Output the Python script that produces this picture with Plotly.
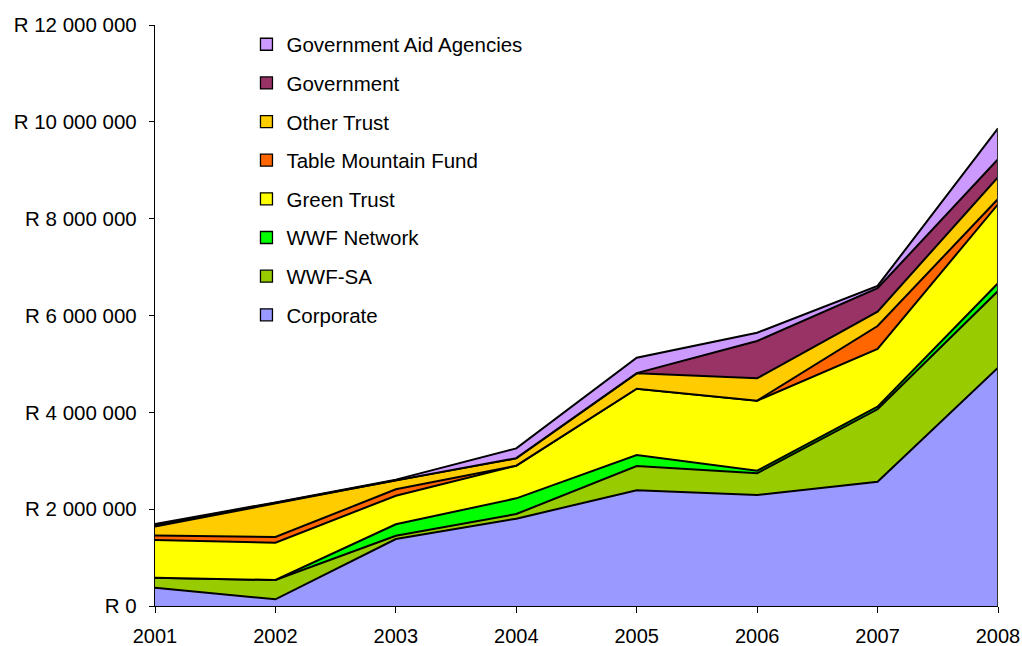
import plotly.graph_objects as go

# Funding received per source, in Rand, 2001-2008
years = [2001, 2002, 2003, 2004, 2005, 2006, 2007, 2008]

corporate = [378000, 138000, 1384000, 1803000, 2390000, 2293000, 2568000, 4922000]
wwf_sa = [207000, 399000, 68000, 97000, 502000, 448000, 1495000, 1584000]
wwf_network = [0, 0, 235000, 324000, 227000, 54000, 54000, 159000]
green_trust = [779000, 770000, 591000, 674000, 1370000, 1446000, 1191000, 1632000]
table_mountain_fund = [90000, 118000, 132000, 0, 0, 0, 475000, 110000]
other_trust = [186000, 696000, 186000, 150000, 317000, 462000, 296000, 448000]
government = [30000, 9000, 4000, 5000, 4000, 771000, 483000, 372000]
gov_aid_agencies = [25000, 10000, 10000, 202000, 319000, 171000, 48000, 640000]

series_names = ["Corporate", "WWF-SA", "WWF Network", "Green Trust",
                "Table Mountain Fund", "Other Trust", "Government",
                "Government Aid Agencies"]
series_values = [corporate, wwf_sa, wwf_network, green_trust,
                 table_mountain_fund, other_trust, government, gov_aid_agencies]
series_colors = ["#9999FF", "#99CC00", "#00FF00", "#FFFF00",
                 "#FF6600", "#FFCC00", "#993366", "#CC99FF"]

y_tick_values = [0, 2000000, 4000000, 6000000, 8000000, 10000000, 12000000]
y_tick_labels = ["R 0", "R 2 000 000", "R 4 000 000", "R 6 000 000",
                 "R 8 000 000", "R 10 000 000", "R 12 000 000"]

FONT = "Liberation Sans, Arial, sans-serif"

fig = go.Figure()

# stacked areas, bottom series first
for name, vals, col in zip(series_names, series_values, series_colors):
    fig.add_trace(go.Scatter(
        x=years, y=vals, name=name, stackgroup="one", mode="lines",
        line=dict(color="black", width=2), fillcolor=col,
        showlegend=False, hoverinfo="skip",
    ))

# right-hand border of the stack
totals = [sum(v) for v in zip(*series_values)]
fig.add_trace(go.Scatter(
    x=[years[-1], years[-1]], y=[0, totals[-1]], mode="lines",
    line=dict(color="#333333", width=2), showlegend=False, hoverinfo="skip",
))

# square legend swatches, top series listed first
for i, (name, col) in enumerate(zip(series_names[::-1], series_colors[::-1])):
    fig.add_trace(go.Bar(
        x=[None], y=[None], name=name, legendgroup=f"g{i}",
        marker=dict(color=col, line=dict(color="black", width=1.3)),
        showlegend=True, hoverinfo="skip",
    ))

fig.update_layout(
    width=1022, height=646,
    margin=dict(l=155, r=24, t=25, b=40),
    paper_bgcolor="white", plot_bgcolor="white",
    font=dict(family=FONT, size=20.5, color="black"),
    showlegend=True,
    legend=dict(
        x=0.1085, y=1.001, xanchor="left", yanchor="top",
        traceorder="grouped", tracegroupgap=9.0,
        bgcolor="rgba(0,0,0,0)", font=dict(family=FONT, size=20.5, color="black"),
    ),
    xaxis=dict(
        range=[2001, 2008], tickmode="array", tickvals=years,
        ticktext=[str(y) for y in years], automargin=False,
        showgrid=False, zeroline=False, showline=True, linecolor="black",
        linewidth=1.3, ticks="outside", ticklen=6, tickcolor="black",
        tickfont=dict(size=20), ticklabelstandoff=6, fixedrange=True,
    ),
    yaxis=dict(
        range=[0, 12000000], tickmode="array", tickvals=y_tick_values,
        ticktext=y_tick_labels, showgrid=False, zeroline=False, automargin=False,
        showline=True, linecolor="black", linewidth=1.3, ticks="outside",
        ticklen=5, tickcolor="black", ticklabelstandoff=8, fixedrange=True,
    ),
)

fig.write_html("out.html")
